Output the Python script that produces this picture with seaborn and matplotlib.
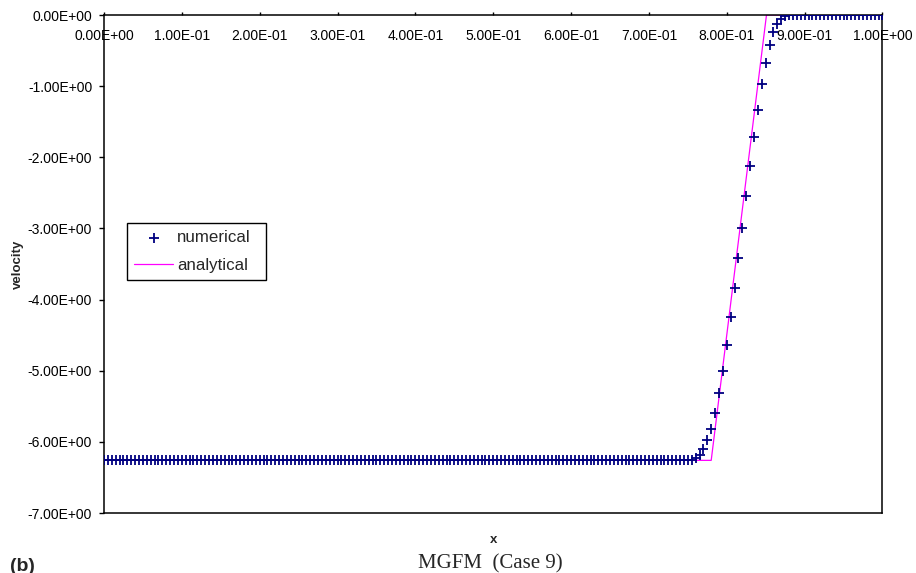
import numpy as np
import pandas as pd
import matplotlib
matplotlib.use('Agg')
import matplotlib.pyplot as plt
from matplotlib.ticker import FormatStrFormatter
import seaborn as sns

# numerical solution, one value per grid node (dx = 0.005, 201 nodes)
N_CELLS = 200
numerical_v = [
    -6.26, -6.26, -6.26, -6.26, -6.26, -6.26, -6.26, -6.26, -6.26, -6.26,
    -6.26, -6.26, -6.26, -6.26, -6.26, -6.26, -6.26, -6.26, -6.26, -6.26,
    -6.26, -6.26, -6.26, -6.26, -6.26, -6.26, -6.26, -6.26, -6.26, -6.26,
    -6.26, -6.26, -6.26, -6.26, -6.26, -6.26, -6.26, -6.26, -6.26, -6.26,
    -6.26, -6.26, -6.26, -6.26, -6.26, -6.26, -6.26, -6.26, -6.26, -6.26,
    -6.26, -6.26, -6.26, -6.26, -6.26, -6.26, -6.26, -6.26, -6.26, -6.26,
    -6.26, -6.26, -6.26, -6.26, -6.26, -6.26, -6.26, -6.26, -6.26, -6.26,
    -6.26, -6.26, -6.26, -6.26, -6.26, -6.26, -6.26, -6.26, -6.26, -6.26,
    -6.26, -6.26, -6.26, -6.26, -6.26, -6.26, -6.26, -6.26, -6.26, -6.26,
    -6.26, -6.26, -6.26, -6.26, -6.26, -6.26, -6.26, -6.26, -6.26, -6.26,
    -6.26, -6.26, -6.26, -6.26, -6.26, -6.26, -6.26, -6.26, -6.26, -6.26,
    -6.26, -6.26, -6.26, -6.26, -6.26, -6.26, -6.26, -6.26, -6.26, -6.26,
    -6.26, -6.26, -6.26, -6.26, -6.26, -6.26, -6.26, -6.26, -6.26, -6.26,
    -6.26, -6.26, -6.26, -6.26, -6.26, -6.26, -6.26, -6.26, -6.26, -6.26,
    -6.26, -6.26, -6.26, -6.26, -6.26, -6.26, -6.26, -6.26, -6.26, -6.26,
    -6.26, -6.25,
    -6.23, -6.18, -6.10, -5.98, -5.82, -5.59, -5.32, -5.00, -4.64, -4.25,
    -3.84, -3.42, -2.99, -2.54, -2.12, -1.71, -1.33, -0.97, -0.67, -0.42,
    -0.24, -0.12, -0.05, -0.02, 0.0,
    0.0, 0.0, 0.0, 0.0, 0.0, 0.0, 0.0, 0.0, 0.0, 0.0,
    0.0, 0.0, 0.0, 0.0, 0.0, 0.0, 0.0, 0.0, 0.0, 0.0,
    0.0, 0.0, 0.0, 0.0,
]
numerical_x = np.linspace(0.0, 1.0, N_CELLS + 1)

# analytical solution (piecewise linear)
analytical_x = [0.0, 0.780, 0.851, 1.0]
analytical_v = [-6.26, -6.26, 0.0, 0.0]

x_ticks = [0.0, 0.1, 0.2, 0.3, 0.4, 0.5, 0.6, 0.7, 0.8, 0.9, 1.0]
y_ticks = [-7.0, -6.0, -5.0, -4.0, -3.0, -2.0, -1.0, 0.0]

NAVY = '#000080'
MAGENTA = '#ff00ff'


def main():
    sns.set_theme(style='white')
    plt.rcParams['font.family'] = ['Liberation Sans', 'DejaVu Sans']

    num_df = pd.DataFrame({'x': numerical_x, 'velocity': numerical_v})
    ana_df = pd.DataFrame({'x': analytical_x, 'velocity': analytical_v})

    fig = plt.figure(figsize=(9.16, 5.73), dpi=100)
    ax = fig.add_axes([0.1135, 0.1047, 0.8499, 0.8691])

    sns.scatterplot(data=num_df, x='x', y='velocity', ax=ax, marker='+',
                    s=42, linewidth=1.3, color=NAVY, label='numerical',
                    zorder=3)
    sns.lineplot(data=ana_df, x='x', y='velocity', ax=ax, color=MAGENTA,
                 linewidth=0.9, label='analytical', zorder=2)

    ax.set_xlim(0, 1)
    ax.set_ylim(-7, 0)
    ax.set_xticks(x_ticks)
    ax.set_yticks(y_ticks)
    ax.xaxis.set_major_formatter(FormatStrFormatter('%.2E'))
    ax.yaxis.set_major_formatter(FormatStrFormatter('%.2E'))

    # x axis sits at velocity 0 (top), labels hang below it
    ax.tick_params(axis='x', top=True, bottom=False, labeltop=True,
                   labelbottom=False, direction='out', length=2.5,
                   width=1, pad=-23, labelsize=10, colors='black')
    ax.tick_params(axis='y', left=True, direction='out', length=3.5,
                   width=1, pad=5, labelsize=10, colors='black')

    for side in ['top', 'bottom', 'left', 'right']:
        ax.spines[side].set_visible(True)
        ax.spines[side].set_color('black')
        ax.spines[side].set_linewidth(1.1)

    ax.xaxis.set_label_position('bottom')
    ax.set_xlabel('x', fontsize=9.5, fontweight='bold', labelpad=15)
    ax.set_ylabel('velocity', fontsize=9.5, fontweight='bold', labelpad=3)

    leg = ax.legend(loc='upper left',
                    bbox_to_anchor=(0.030, 0.4725, 0.1777, 0.1092),
                    mode='expand', borderaxespad=0, fontsize=12.2,
                    frameon=True, fancybox=False, edgecolor='black',
                    framealpha=1, borderpad=0.4, handlelength=2.3,
                    handletextpad=0.25, labelspacing=0.75)
    leg.get_frame().set_linewidth(1.0)

    fig.text(0.011, 0.012, '(b)', fontsize=14, fontweight='bold',
             ha='left', va='center')
    fig.text(0.535, 0.0157, 'MGFM  (Case 9)', fontsize=15,
             family=['Liberation Serif', 'DejaVu Serif'],
             ha='center', va='center')

    fig.savefig('out.png', dpi=100)


if __name__ == '__main__':
    main()
